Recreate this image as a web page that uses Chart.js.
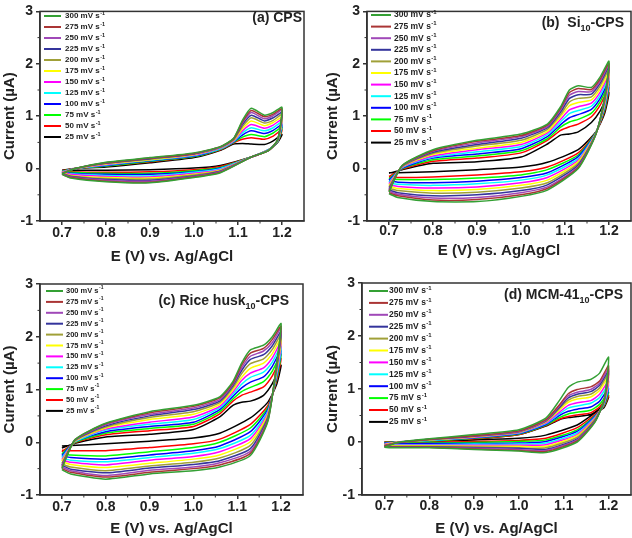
<!DOCTYPE html>
<html>
<head>
<meta charset="utf-8">
<script src="https://cdn.jsdelivr.net/npm/chart.js@4.4.1/dist/chart.umd.min.js"></script>
<style>
  body { margin: 0; background: #fff; }
  .panel { position: absolute; }
</style>
</head>
<body>
<div class="panel" style="left:0;top:0;width:316px;height:268px"><canvas id="chartA"></canvas></div>
<div class="panel" style="left:316px;top:0;width:316px;height:268px"><canvas id="chartB"></canvas></div>
<div class="panel" style="left:0;top:268px;width:316px;height:270px"><canvas id="chartC"></canvas></div>
<div class="panel" style="left:316px;top:268px;width:316px;height:270px"><canvas id="chartD"></canvas></div>
<script>
// scan rates (mV/s), legend order top -> bottom
const rates = ['300', '275', '250', '225', '200', '175', '150', '125', '100', '75', '50', '25'];
const colors = ['#34a034', '#aa3535', '#a048b8', '#34349c', '#a0a038', '#ffff00', '#ff00ff', '#00ffff', '#0000ff', '#00ff00', '#ff0000', '#000000'];

// potentials (V) of the forward (anodic) and reverse scans
const fwdE = [0.70, 0.73, 0.80, 0.90, 1.00, 1.06, 1.09, 1.11, 1.13, 1.16, 1.18, 1.20];
const revE = [1.19, 1.17, 1.13, 1.06, 1.00, 0.90, 0.80, 0.72, 0.70];

const xTicks = [0.7, 0.8, 0.9, 1.0, 1.1, 1.2];
const xTickLabels = ['0.7', '0.8', '0.9', '1.0', '1.1', '1.2'];
const xMinor = [0.75, 0.85, 0.95, 1.05, 1.15];
const yTicks = [-1, 0, 1, 2, 3];
const yTickLabels = ['-1', '0', '1', '2', '3'];
const yMinor = [-0.5, 0.5, 1.5, 2.5];

// (a) CPS, current in uA
const aFwd = [
  [-0.10, 0.00, 0.12, 0.21, 0.30, 0.42, 0.58, 0.92, 1.15, 1.02, 1.07, 1.17],
  [-0.10, 0.00, 0.11, 0.20, 0.29, 0.42, 0.57, 0.89, 1.11, 0.99, 1.04, 1.14],
  [-0.09, 0.00, 0.11, 0.20, 0.29, 0.41, 0.57, 0.87, 1.07, 0.95, 1.01, 1.11],
  [-0.09, 0.00, 0.10, 0.19, 0.28, 0.41, 0.56, 0.84, 1.02, 0.91, 0.97, 1.07],
  [-0.08, 0.00, 0.10, 0.18, 0.28, 0.40, 0.55, 0.80, 0.97, 0.87, 0.92, 1.03],
  [-0.08, 0.00, 0.09, 0.17, 0.27, 0.40, 0.54, 0.76, 0.91, 0.82, 0.88, 0.98],
  [-0.07, 0.00, 0.08, 0.17, 0.26, 0.39, 0.53, 0.72, 0.84, 0.77, 0.83, 0.94],
  [-0.06, 0.00, 0.07, 0.16, 0.25, 0.38, 0.52, 0.68, 0.78, 0.72, 0.78, 0.89],
  [-0.06, 0.00, 0.06, 0.15, 0.24, 0.38, 0.51, 0.64, 0.72, 0.67, 0.73, 0.84],
  [-0.05, 0.00, 0.05, 0.14, 0.23, 0.37, 0.50, 0.60, 0.65, 0.61, 0.68, 0.79],
  [-0.04, 0.00, 0.05, 0.13, 0.23, 0.36, 0.49, 0.56, 0.59, 0.56, 0.62, 0.74],
  [-0.03, 0.00, 0.03, 0.11, 0.21, 0.35, 0.47, 0.48, 0.47, 0.46, 0.53, 0.65]
];
const aRev = [
  [0.55, 0.35, 0.22, -0.08, -0.17, -0.27, -0.25, -0.18, -0.11],
  [0.55, 0.35, 0.22, -0.07, -0.16, -0.26, -0.24, -0.17, -0.11],
  [0.54, 0.35, 0.22, -0.06, -0.15, -0.24, -0.22, -0.16, -0.10],
  [0.54, 0.35, 0.22, -0.05, -0.14, -0.22, -0.21, -0.15, -0.10],
  [0.54, 0.35, 0.22, -0.04, -0.12, -0.20, -0.19, -0.14, -0.09],
  [0.53, 0.35, 0.22, -0.03, -0.11, -0.18, -0.17, -0.13, -0.08],
  [0.53, 0.35, 0.22, -0.02, -0.09, -0.16, -0.15, -0.11, -0.07],
  [0.52, 0.36, 0.22, 0.00, -0.07, -0.14, -0.13, -0.10, -0.07],
  [0.52, 0.36, 0.22, 0.01, -0.06, -0.11, -0.11, -0.09, -0.06],
  [0.51, 0.36, 0.22, 0.02, -0.04, -0.09, -0.09, -0.07, -0.05],
  [0.51, 0.36, 0.22, 0.04, -0.02, -0.06, -0.07, -0.06, -0.04],
  [0.50, 0.36, 0.22, 0.06, 0.01, -0.02, -0.03, -0.03, -0.03]
];

// (b) Si10-CPS
const bFwd = [
  [-0.45, 0.06, 0.36, 0.54, 0.66, 0.85, 1.18, 1.50, 1.58, 1.55, 1.75, 2.05],
  [-0.43, 0.06, 0.34, 0.52, 0.63, 0.83, 1.15, 1.45, 1.53, 1.51, 1.71, 2.01],
  [-0.41, 0.05, 0.33, 0.49, 0.61, 0.80, 1.12, 1.40, 1.47, 1.47, 1.67, 1.98],
  [-0.38, 0.05, 0.31, 0.46, 0.58, 0.78, 1.08, 1.34, 1.41, 1.42, 1.63, 1.94],
  [-0.35, 0.04, 0.29, 0.43, 0.54, 0.75, 1.03, 1.27, 1.34, 1.37, 1.58, 1.89],
  [-0.32, 0.04, 0.27, 0.39, 0.50, 0.71, 0.99, 1.20, 1.26, 1.31, 1.52, 1.83],
  [-0.29, 0.03, 0.24, 0.36, 0.46, 0.68, 0.94, 1.12, 1.18, 1.25, 1.46, 1.78],
  [-0.26, 0.02, 0.22, 0.32, 0.42, 0.65, 0.89, 1.05, 1.11, 1.19, 1.40, 1.73],
  [-0.22, 0.01, 0.20, 0.28, 0.38, 0.61, 0.84, 0.97, 1.03, 1.13, 1.34, 1.67],
  [-0.19, 0.00, 0.17, 0.24, 0.34, 0.57, 0.79, 0.89, 0.94, 1.06, 1.28, 1.61],
  [-0.15, -0.01, 0.14, 0.20, 0.30, 0.54, 0.73, 0.80, 0.85, 0.99, 1.21, 1.55],
  [-0.09, -0.02, 0.10, 0.13, 0.22, 0.47, 0.64, 0.66, 0.70, 0.88, 1.10, 1.45]
];
const bRev = [
  [1.36, 0.65, 0.00, -0.41, -0.53, -0.63, -0.63, -0.55, -0.48],
  [1.34, 0.65, 0.02, -0.38, -0.50, -0.59, -0.60, -0.52, -0.46],
  [1.32, 0.66, 0.04, -0.35, -0.46, -0.55, -0.56, -0.49, -0.43],
  [1.30, 0.66, 0.07, -0.31, -0.42, -0.50, -0.52, -0.46, -0.41],
  [1.28, 0.66, 0.10, -0.27, -0.37, -0.45, -0.47, -0.42, -0.38],
  [1.25, 0.67, 0.13, -0.22, -0.32, -0.40, -0.42, -0.38, -0.34],
  [1.22, 0.67, 0.16, -0.17, -0.27, -0.35, -0.37, -0.34, -0.31],
  [1.19, 0.68, 0.19, -0.12, -0.22, -0.29, -0.32, -0.30, -0.27],
  [1.17, 0.68, 0.23, -0.08, -0.17, -0.24, -0.27, -0.26, -0.23],
  [1.13, 0.69, 0.26, -0.02, -0.12, -0.18, -0.21, -0.21, -0.20],
  [1.10, 0.69, 0.30, 0.03, -0.06, -0.12, -0.16, -0.17, -0.16],
  [1.05, 0.70, 0.36, 0.12, 0.03, -0.02, -0.06, -0.08, -0.08]
];

// (c) Rice husk10-CPS
const cFwd = [
  [-0.50, 0.05, 0.36, 0.58, 0.70, 0.86, 1.15, 1.50, 1.75, 1.84, 2.00, 2.25],
  [-0.48, 0.05, 0.35, 0.56, 0.68, 0.84, 1.12, 1.46, 1.69, 1.78, 1.95, 2.20],
  [-0.45, 0.04, 0.33, 0.53, 0.65, 0.81, 1.10, 1.41, 1.63, 1.73, 1.89, 2.16],
  [-0.43, 0.04, 0.31, 0.50, 0.62, 0.78, 1.07, 1.36, 1.57, 1.66, 1.83, 2.10],
  [-0.40, 0.03, 0.29, 0.47, 0.58, 0.75, 1.03, 1.30, 1.49, 1.58, 1.76, 2.04],
  [-0.36, 0.02, 0.27, 0.43, 0.53, 0.72, 0.99, 1.23, 1.40, 1.50, 1.68, 1.97],
  [-0.33, 0.02, 0.25, 0.38, 0.48, 0.68, 0.95, 1.17, 1.31, 1.41, 1.60, 1.90],
  [-0.29, 0.01, 0.23, 0.34, 0.43, 0.65, 0.91, 1.10, 1.23, 1.33, 1.52, 1.82],
  [-0.25, 0.01, 0.20, 0.30, 0.38, 0.62, 0.87, 1.03, 1.14, 1.24, 1.44, 1.75],
  [-0.22, 0.00, 0.17, 0.26, 0.34, 0.58, 0.82, 0.96, 1.04, 1.15, 1.35, 1.67],
  [-0.18, -0.01, 0.14, 0.22, 0.30, 0.54, 0.78, 0.89, 0.95, 1.05, 1.26, 1.59],
  [-0.11, -0.02, 0.10, 0.15, 0.24, 0.48, 0.70, 0.76, 0.78, 0.89, 1.11, 1.46]
];
const cRev = [
  [1.50, 0.40, -0.25, -0.47, -0.54, -0.60, -0.70, -0.60, -0.52],
  [1.48, 0.42, -0.21, -0.43, -0.50, -0.57, -0.66, -0.57, -0.50],
  [1.45, 0.44, -0.17, -0.39, -0.47, -0.53, -0.63, -0.54, -0.47],
  [1.42, 0.47, -0.12, -0.35, -0.42, -0.49, -0.58, -0.51, -0.44],
  [1.39, 0.50, -0.06, -0.30, -0.38, -0.45, -0.54, -0.47, -0.41],
  [1.36, 0.53, 0.01, -0.24, -0.32, -0.40, -0.48, -0.42, -0.37],
  [1.32, 0.56, 0.07, -0.18, -0.27, -0.34, -0.43, -0.38, -0.34],
  [1.28, 0.59, 0.13, -0.12, -0.21, -0.29, -0.37, -0.34, -0.30],
  [1.25, 0.63, 0.20, -0.07, -0.16, -0.24, -0.32, -0.29, -0.26],
  [1.21, 0.66, 0.27, 0.00, -0.10, -0.18, -0.26, -0.24, -0.22],
  [1.17, 0.70, 0.34, 0.06, -0.03, -0.10, -0.16, -0.16, -0.15],
  [1.10, 0.76, 0.46, 0.17, 0.08, 0.02, -0.03, -0.06, -0.07]
];

// (d) MCM-4110-CPS
const dFwd = [
  [-0.10, -0.01, 0.06, 0.14, 0.23, 0.45, 0.78, 1.03, 1.13, 1.18, 1.30, 1.60],
  [-0.08, -0.01, 0.05, 0.12, 0.21, 0.42, 0.70, 0.91, 0.99, 1.04, 1.15, 1.44],
  [-0.07, -0.01, 0.05, 0.12, 0.20, 0.41, 0.68, 0.87, 0.94, 0.99, 1.11, 1.38],
  [-0.07, -0.01, 0.05, 0.11, 0.20, 0.40, 0.65, 0.83, 0.90, 0.95, 1.07, 1.34],
  [-0.06, -0.01, 0.04, 0.11, 0.19, 0.39, 0.63, 0.79, 0.86, 0.90, 1.02, 1.29],
  [-0.05, 0.00, 0.04, 0.10, 0.19, 0.38, 0.60, 0.75, 0.81, 0.85, 0.97, 1.23],
  [-0.04, 0.00, 0.04, 0.09, 0.18, 0.36, 0.56, 0.69, 0.74, 0.78, 0.90, 1.15],
  [-0.03, 0.00, 0.03, 0.09, 0.17, 0.35, 0.53, 0.64, 0.68, 0.73, 0.84, 1.08],
  [-0.02, 0.00, 0.03, 0.08, 0.16, 0.33, 0.50, 0.58, 0.62, 0.66, 0.77, 1.01],
  [-0.01, 0.00, 0.02, 0.07, 0.15, 0.32, 0.46, 0.53, 0.56, 0.60, 0.71, 0.94],
  [0.00, 0.00, 0.02, 0.06, 0.14, 0.31, 0.43, 0.48, 0.51, 0.55, 0.66, 0.88],
  [0.00, 0.00, 0.02, 0.06, 0.14, 0.30, 0.42, 0.46, 0.48, 0.52, 0.63, 0.85]
];
const dRev = [
  [0.80, 0.38, 0.00, -0.20, -0.17, -0.14, -0.11, -0.11, -0.10],
  [0.79, 0.39, 0.02, -0.18, -0.16, -0.13, -0.10, -0.10, -0.09],
  [0.78, 0.40, 0.04, -0.16, -0.14, -0.12, -0.10, -0.10, -0.09],
  [0.77, 0.41, 0.06, -0.14, -0.12, -0.11, -0.09, -0.09, -0.08],
  [0.76, 0.43, 0.09, -0.11, -0.11, -0.09, -0.08, -0.08, -0.07],
  [0.75, 0.44, 0.12, -0.08, -0.08, -0.08, -0.07, -0.07, -0.06],
  [0.73, 0.46, 0.14, -0.05, -0.06, -0.06, -0.06, -0.06, -0.06],
  [0.72, 0.47, 0.17, -0.02, -0.04, -0.04, -0.05, -0.05, -0.05],
  [0.71, 0.49, 0.20, 0.01, -0.02, -0.03, -0.03, -0.04, -0.04],
  [0.69, 0.50, 0.23, 0.04, 0.01, -0.01, -0.02, -0.03, -0.03],
  [0.68, 0.52, 0.27, 0.07, 0.03, 0.01, -0.01, -0.02, -0.02],
  [0.65, 0.55, 0.32, 0.13, 0.07, 0.04, 0.01, 0.00, 0.00]
];

const FONT = '"Liberation Sans", Arial, sans-serif';
const INK = '#222';

// frame, minor ticks, in-plot legend and panel label
const deco = {
  id: 'deco',
  afterDraw(chart, args, o) {
    const { ctx, chartArea: a } = chart;
    const x = chart.scales.x, y = chart.scales.y;
    ctx.save();
    ctx.strokeStyle = '#333';
    ctx.lineWidth = 1.5;
    ctx.strokeRect(a.left, a.top, a.right - a.left, a.bottom - a.top);
    ctx.lineWidth = 1;
    ctx.beginPath();
    xMinor.forEach(v => {
      const p = x.getPixelForValue(v);
      ctx.moveTo(p, a.bottom); ctx.lineTo(p, a.bottom + 2.5);
    });
    yMinor.forEach(v => {
      const p = y.getPixelForValue(v);
      ctx.moveTo(a.left, p); ctx.lineTo(a.left - 2.5, p);
    });
    ctx.stroke();

    // legend
    ctx.textBaseline = 'middle';
    chart.data.datasets.forEach((d, i) => {
      const yy = o.ly + i * o.gap;
      ctx.strokeStyle = d.borderColor;
      ctx.lineWidth = 2;
      ctx.beginPath(); ctx.moveTo(o.lx, yy); ctx.lineTo(o.lx + o.len, yy); ctx.stroke();
      ctx.fillStyle = INK;
      ctx.font = 'bold ' + o.lf + 'px ' + FONT;
      ctx.fillText(d.label, o.tx, yy);
      const w = ctx.measureText(d.label).width;
      ctx.font = 'bold ' + (o.lf - 2.5) + 'px ' + FONT;
      ctx.fillText('-1', o.tx + w + 0.5, yy - 3);
    });

    // panel label with subscript
    let total = 0;
    o.title.forEach(p => { ctx.font = 'bold ' + p[1] + 'px ' + FONT; total += ctx.measureText(p[0]).width; });
    let cx = o.tr - total;
    ctx.textBaseline = 'alphabetic';
    ctx.fillStyle = INK;
    o.title.forEach(p => {
      ctx.font = 'bold ' + p[1] + 'px ' + FONT;
      ctx.fillText(p[0], cx, o.ty + (p[2] || 0));
      cx += ctx.measureText(p[0]).width;
    });
    ctx.restore();
  }
};

function makePanel(id, fwd, rev, c) {
  const datasets = rates.map((r, i) => ({
    label: r + ' mV s',
    data: fwdE.map((e, j) => ({ x: e, y: fwd[i][j] }))
      .concat(revE.map((e, j) => ({ x: e, y: rev[i][j] }))),
    borderColor: colors[i],
    borderWidth: 1.5,
    pointRadius: 0,
    showLine: true,
    fill: false,
    tension: 0.2
  }));
  new Chart(document.getElementById(id), {
    type: 'scatter',
    data: { datasets },
    plugins: [deco],
    options: {
      responsive: true,
      maintainAspectRatio: false,
      animation: false,
      layout: { padding: c.pad },
      plugins: {
        legend: { display: false },
        tooltip: { enabled: false },
        deco: c.deco
      },
      scales: {
        x: {
          type: 'linear', min: 0.65, max: 1.25,
          afterBuildTicks: s => { s.ticks = xTicks.map(v => ({ value: v })); },
          afterFit: s => { s.height = c.xh; },
          ticks: {
            callback: (v, i) => xTickLabels[i],
            font: { family: FONT, size: 14, weight: 'bold' }, color: INK, padding: c.xtp
          },
          grid: { drawOnChartArea: false, tickLength: 4, color: '#333', lineWidth: 1.5 },
          border: { color: '#333', width: 1.5 },
          title: {
            display: true, text: 'E (V) vs. Ag/AgCl', color: INK,
            font: { family: FONT, size: 15, weight: 'bold' }, padding: { top: 0, bottom: c.xttp }
          }
        },
        y: {
          type: 'linear', min: -1, max: 3,
          afterBuildTicks: s => { s.ticks = yTicks.map(v => ({ value: v })); },
          afterFit: s => { s.width = c.yw; },
          ticks: {
            callback: (v, i) => yTickLabels[i],
            font: { family: FONT, size: 14, weight: 'bold' }, color: INK, padding: 3
          },
          grid: { drawOnChartArea: false, tickLength: 4, color: '#333', lineWidth: 1.5 },
          border: { color: '#333', width: 1.5 },
          title: {
            display: true, text: 'Current (\u00b5A)', color: INK,
            font: { family: FONT, size: 15, weight: 'bold' }, padding: { top: c.ytp, bottom: 0 }
          }
        }
      }
    }
  });
}

makePanel('chartA', aFwd, aRev, {
  pad: { left: 0, top: 7, right: 12, bottom: 0 }, xh: 47, yw: 40, xtp: 0, xttp: 2, ytp: 1,
  deco: { lx: 44, ly: 16, gap: 11, len: 17, tx: 65, lf: 8, tr: 302, ty: 22,
    title: [['(a) CPS', 14]] }
});
makePanel('chartB', bFwd, bRev, {
  pad: { left: 4, top: 10, right: 1, bottom: 0 }, xh: 47, yw: 47, xtp: -2, xttp: 8, ytp: 4,
  deco: { lx: 55, ly: 15, gap: 11.6, len: 20, tx: 78, lf: 8.5, tr: 308, ty: 27,
    title: [['(b)  Si', 14], ['10', 9, 4], ['-CPS', 14]] }
});
makePanel('chartC', cFwd, cRev, {
  pad: { left: 0, top: 16, right: 13, bottom: 0 }, xh: 43, yw: 40, xtp: 0, xttp: 0, ytp: 1,
  deco: { lx: 46, ly: 23, gap: 10.9, len: 17, tx: 66, lf: 7.5, tr: 289, ty: 37,
    title: [['(c) Rice husk', 14], ['10', 9, 4], ['-CPS', 14]] }
});
makePanel('chartD', dFwd, dRev, {
  pad: { left: 4, top: 15, right: 1, bottom: 0 }, xh: 43, yw: 42, xtp: -1, xttp: 0, ytp: 4,
  deco: { lx: 53, ly: 23, gap: 11.9, len: 19, tx: 73, lf: 8.5, tr: 307, ty: 31,
    title: [['(d) MCM-41', 14], ['10', 9, 4], ['-CPS', 14]] }
});
</script>
</body>
</html>
